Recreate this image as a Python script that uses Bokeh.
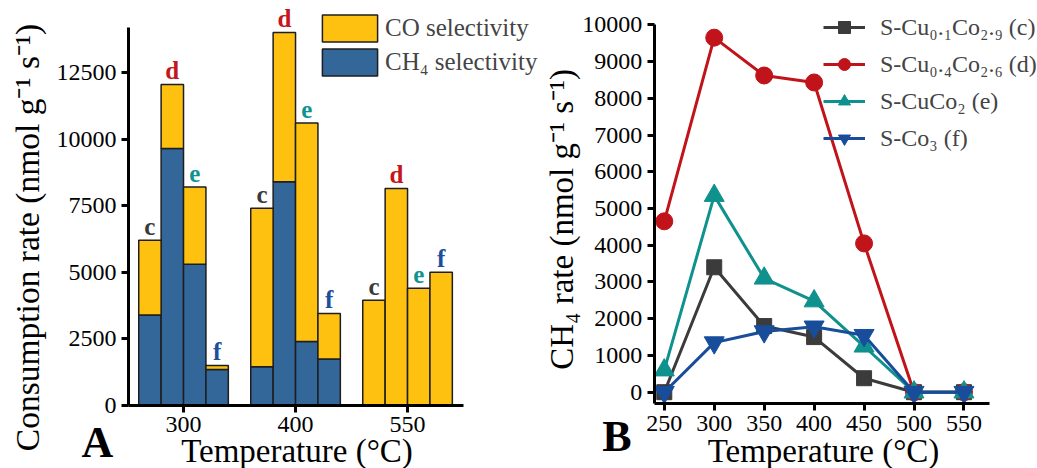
import math
from bokeh.plotting import figure
from bokeh.layouts import row
from bokeh.models import (ColumnDataSource, Legend, LegendItem, Label, FixedTicker,
                          SingleIntervalTicker, Range1d, LinearAxis)
from bokeh.core.properties import value
from bokeh.embed import file_html
from bokeh.resources import INLINE

# ---------------- data: panel A ----------------
temps_A = ["300", "400", "550"]
samples = ["c", "d", "e", "f"]
total_300 = [6200, 12050, 8200, 1500]
ch4_300 = [3400, 9650, 5300, 1350]
total_400 = [7400, 14000, 10600, 3450]
ch4_400 = [1450, 8400, 2400, 1750]
total_550 = [3950, 8150, 4400, 5000]
ch4_550 = [0, 0, 0, 0]
letter_colors = ["#3a3a3a", "#C4161C", "#12938F", "#1C4E9C"]

# ---------------- data: panel B ----------------
temps_B = [250, 300, 350, 400, 450, 500, 550]
rate_c = [0, 3400, 1800, 1500, 380, 0, 0]
rate_d = [4650, 9650, 8620, 8430, 4050, 0, 0]
rate_e = [600, 5350, 3100, 2480, 1250, 0, 0]
rate_f = [0, 1350, 1650, 1780, 1550, 0, 0]
labels_B = ["S-Cu\u2080.\u2081Co\u2082.\u2089 (c)", "S-Cu\u2080.\u2084Co\u2082.\u2086 (d)",
            "S-CuCo\u2082 (e)", "S-Co\u2083 (f)"]

FONT = "Liberation Serif"
YELLOW = "#FEC10F"
BLUE = "#336699"
H = 468

# ---------------- panel A ----------------
W = 0.2
xs, tot, ch4, let, lcol = [], [], [], [], []
for g, (t_arr, c_arr) in enumerate([(total_300, ch4_300), (total_400, ch4_400), (total_550, ch4_550)]):
    for i in range(4):
        xs.append(g + (i - 1.5) * W)
        tot.append(t_arr[i])
        ch4.append(c_arr[i])
        let.append(samples[i])
        lcol.append(letter_colors[i])
srcA = ColumnDataSource(dict(x=xs, total=tot, ch4=ch4, letter=let, lcol=lcol))

pA = figure(width=540, height=H, output_backend="svg", toolbar_location=None, title=None,
            x_range=Range1d(-1.634, 3.187), y_range=Range1d(-2365, 15203),
            min_border=0, x_axis_location=None, y_axis_location=None)
r_ch4 = pA.vbar(x="x", width=W, bottom=0, top="ch4", source=srcA,
                fill_color=BLUE, line_color="#1e1e1e", line_width=1.5)
r_co = pA.vbar(x="x", width=W, bottom="ch4", top="total", source=srcA,
               fill_color=YELLOW, line_color="#1e1e1e", line_width=1.5)
pA.text(x="x", y="total", text="letter", source=srcA, text_color="lcol",
        text_font=value(FONT), text_font_style="bold", text_font_size="25px",
        text_align="center", text_baseline="alphabetic", y_offset=-14)

axA_x = LinearAxis(ticker=FixedTicker(ticks=[0, 1, 2]), fixed_location=0, bounds=(-0.491, 2.5),
                   major_label_overrides={0: temps_A[0], 1: temps_A[1], 2: temps_A[2]})
axA_y = LinearAxis(ticker=SingleIntervalTicker(interval=2500), fixed_location=-0.491,
                   bounds=(0, 14189))
pA.add_layout(axA_x, "below")
pA.add_layout(axA_y, "left")

legA = Legend(items=[LegendItem(label="CO selectivity", renderers=[r_co]),
                     LegendItem(label="CH\u2084 selectivity", renderers=[r_ch4])],
              location=(315, 389), glyph_width=69, glyph_height=34, spacing=-2,
              label_standoff=1, padding=0, margin=0, border_line_color=None,
              background_fill_alpha=0, label_text_font=FONT, label_text_font_size="25px")
pA.add_layout(legA)

# ---------------- panel B ----------------
pB = figure(width=497, height=H, output_backend="svg", toolbar_location=None, title=None,
            x_range=Range1d(126.1, 623.6), y_range=Range1d(-2077, 10661),
            min_border=0, x_axis_location=None, y_axis_location=None)
srcB = ColumnDataSource(dict(t=temps_B, c=rate_c, d=rate_d, e=rate_e, f=rate_f))
specs = [("c", "#3b3b3b", "square", 15), ("d", "#C0131A", "circle", 17),
         ("e", "#0F918D", "triangle", 20), ("f", "#174D9B", "inverted_triangle", 20)]
itemsB = []
for (key, col, mk, sz), lab in zip(specs, labels_B):
    rl = pB.line(x="t", y=key, source=srcB, line_color=col, line_width=3)
    rs = pB.scatter(x="t", y=key, source=srcB, marker=mk, size=sz,
                    fill_color=col, line_color=col)
    itemsB.append(LegendItem(label=lab, renderers=[rl, rs]))
axB_x = LinearAxis(ticker=FixedTicker(ticks=temps_B), fixed_location=-308, bounds=(240, 575.7))
axB_y = LinearAxis(ticker=SingleIntervalTicker(interval=1000), fixed_location=240,
                   bounds=(-308, 10008))
pB.add_layout(axB_x, "below")
pB.add_layout(axB_y, "left")
legB = Legend(items=itemsB, location=(283, 315), glyph_width=42, glyph_height=30, spacing=7,
              label_standoff=15, padding=0, margin=0, border_line_color=None,
              background_fill_alpha=0, label_text_font=FONT, label_text_font_size="24px")
pB.add_layout(legB)

# ---------------- common styling ----------------
for p, axes in ((pA, (axA_x, axA_y)), (pB, (axB_x, axB_y))):
    p.outline_line_color = None
    p.xgrid.grid_line_color = None
    p.ygrid.grid_line_color = None
    p.background_fill_color = "white"
    p.border_fill_color = "white"
    for ax in axes:
        ax.axis_line_width = 3
        ax.axis_line_color = "black"
        ax.major_tick_line_width = 3
        ax.major_tick_line_color = "black"
        ax.major_tick_out = 7
        ax.major_tick_in = 0
        ax.minor_tick_line_color = None
        ax.major_label_text_font = FONT
        ax.major_label_text_font_size = "24px"
        ax.major_label_text_color = "black"
        ax.major_label_standoff = 5

def add_label(p, x, y, text, size, angle=0.0, bold=False, align="center"):
    p.add_layout(Label(x=x, y=y, x_units="screen", y_units="screen", text=text,
                       angle=angle, text_font=FONT, text_font_size=size,
                       text_font_style="bold" if bold else "normal",
                       text_align=align, text_baseline="alphabetic", text_color="black"))

add_label(pA, 296.5, 18, "Temperature (\u00b0C)", "33px")
add_label(pA, 27, 231, "Consumption rate (nmol g\u207b\u00b9 s\u207b\u00b9)", "33.5px", angle=math.pi / 2)
add_label(pA, 81, 26, "A", "44px", bold=True, align="left")
add_label(pB, 283, 18, "Temperature (\u00b0C)", "33px")
add_label(pB, 21, 249, "CH\u2084 rate (nmol g\u207b\u00b9 s\u207b\u00b9)", "33px", angle=math.pi / 2)
add_label(pB, 61.7, 32, "B", "44px", bold=True, align="left")

layout = row(pA, pB)
open("out.html", "w").write(file_html(layout, INLINE))
